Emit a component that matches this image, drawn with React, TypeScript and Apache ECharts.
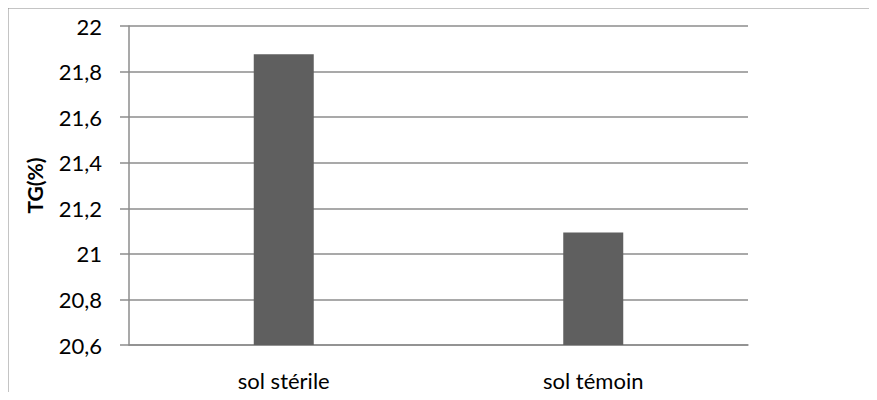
import React, { useEffect, useRef } from "react";
import * as echarts from "echarts";

const categories: string[] = ["sol stérile", "sol témoin"];
const tgValues: number[] = [21.876, 21.094];
const yMin = 20.6;
const yMax = 22;
const yInterval = 0.2;
const yTitle = "TG(%)";

export default function App() {
  const ref = useRef<HTMLDivElement>(null);
  useEffect(() => {
    if (!ref.current) return;
    const chart = echarts.init(ref.current, undefined, { renderer: "svg" });
    chart.setOption({
      animation: false,
      backgroundColor: "#ffffff",
      textStyle: { fontFamily: "Lato" },
      graphic: [
        {
          type: "rect",
          left: 7,
          top: 7,
          shape: { width: 880, height: 392 },
          style: { fill: "transparent", stroke: "#8a8a8a", lineWidth: 1.5 },
          silent: true,
          z: 10,
        },
      ],
      grid: { left: 129, right: 129, top: 26, bottom: 55, containLabel: false },
      xAxis: {
        type: "category",
        data: categories,
        axisLine: { show: true, lineStyle: { color: "#8c8c8c", width: 1.5 } },
        axisTick: { show: false },
        axisLabel: { color: "#000", fontSize: 22, margin: 24, fontFamily: "Lato" },
        splitLine: { show: false },
      },
      yAxis: {
        type: "value",
        min: yMin,
        max: yMax,
        interval: yInterval,
        name: yTitle,
        nameLocation: "middle",
        nameGap: 84,
        nameRotate: 90,
        nameTextStyle: { color: "#000", fontSize: 21, fontWeight: "bold", fontFamily: "Lato" },
        axisLine: { show: true, lineStyle: { color: "#8c8c8c", width: 1.5 } },
        axisTick: { show: true, inside: false, length: 9, lineStyle: { color: "#8c8c8c", width: 1.5 } },
        axisLabel: {
          color: "#000",
          fontSize: 22,
          margin: 27,
          fontFamily: "Lato",
          formatter: (v: number) => String(Math.round(v * 10) / 10).replace(".", ","),
        },
        splitLine: { show: true, lineStyle: { color: "#8c8c8c", width: 1.5 } },
      },
      series: [
        {
          type: "bar",
          data: tgValues,
          barWidth: 60,
          itemStyle: { color: "#5f5f5f" },
        },
      ],
    });
    return () => chart.dispose();
  }, []);
  return <div ref={ref} style={{ width: 877, height: 400, margin: -8 }} />;
}
